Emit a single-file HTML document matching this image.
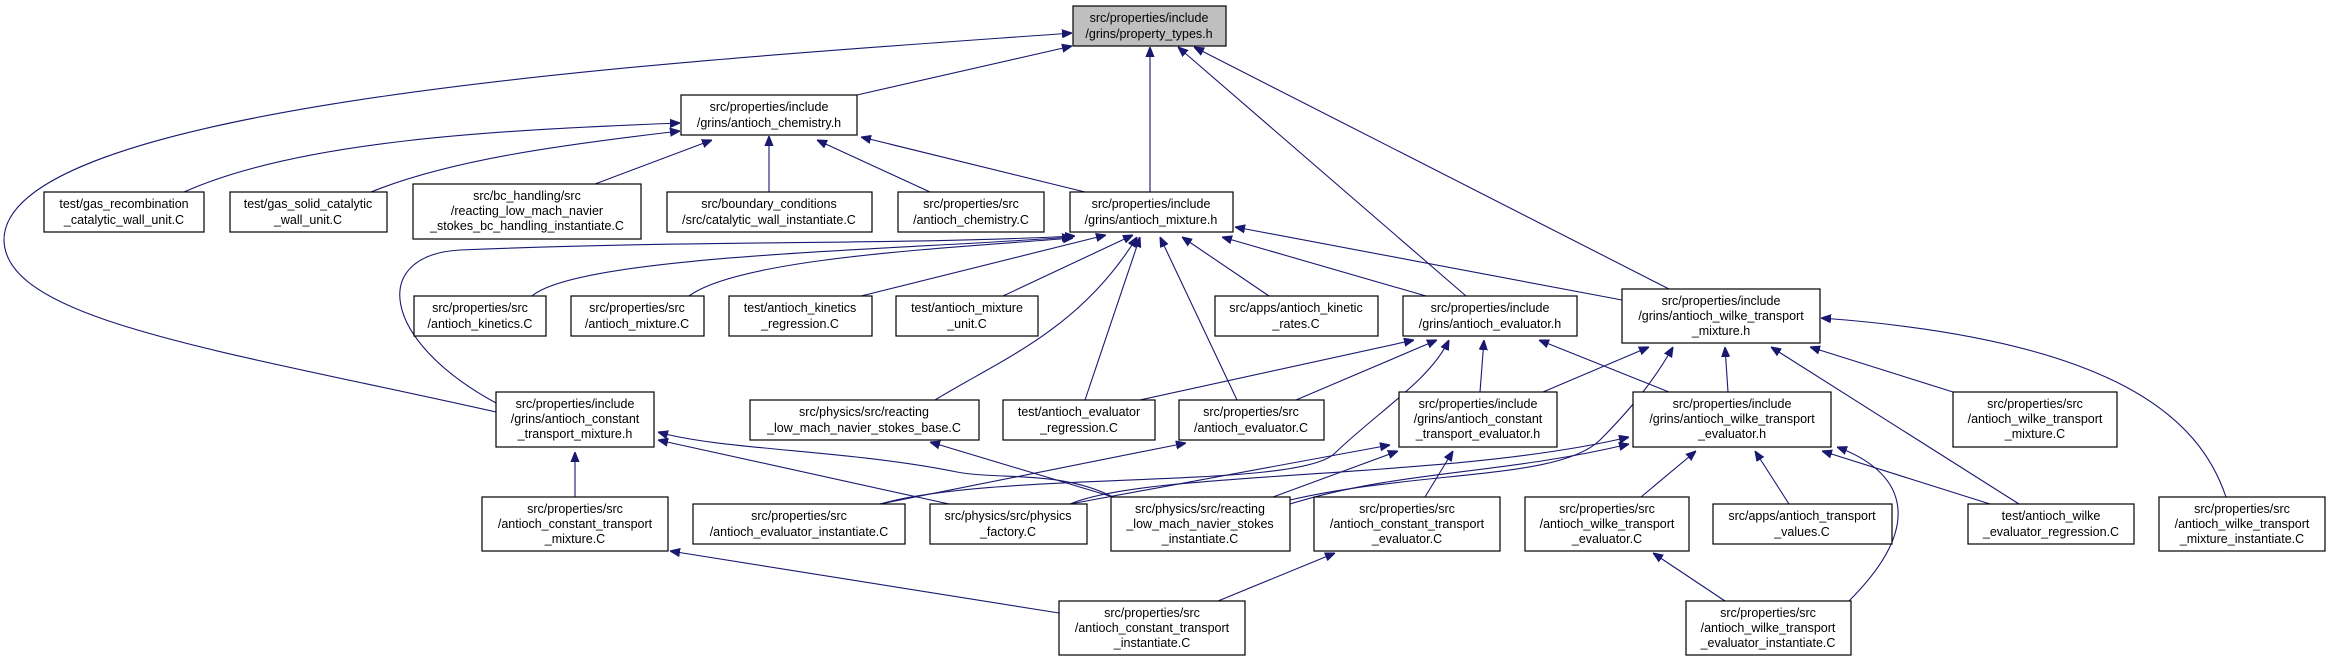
<!DOCTYPE html>
<html><head><meta charset="utf-8"><style>
html,body{margin:0;padding:0;background:#fff;}
svg{display:block;}
text{font-family:"Liberation Sans",sans-serif;font-size:12.5px;fill:#000;text-anchor:middle;}
rect{fill:#fff;stroke:#000;stroke-width:1.2;}
path{fill:none;stroke:#191970;stroke-width:1.1;}
</style></head><body>
<svg width="2330" height="661" viewBox="0 0 2330 661" xmlns="http://www.w3.org/2000/svg">
<defs><marker id="a" viewBox="0 0 10 10" refX="10" refY="5" markerWidth="10" markerHeight="10" markerUnits="userSpaceOnUse" orient="auto"><path d="M0,1 L10,5 L0,9 Z" style="fill:#191970;stroke:#191970"/></marker></defs>
<g marker-end="url(#a)">
<path d="M857,95 L1072,46"/>
<path d="M496,412 C220,350 5,320 4,240 C4,100 700,60 1072,33"/>
<path d="M1150,192 L1150,47"/>
<path d="M1466,296 L1178,47"/>
<path d="M1669,289 L1194,47"/>
<path d="M184,192 C300,140 500,130 680,123"/>
<path d="M371,192 C450,160 560,145 680,131"/>
<path d="M595,184 L712,140"/>
<path d="M769,192 L769,136"/>
<path d="M930,192 L817,140"/>
<path d="M1085,192 L861,137"/>
<path d="M532,296 C580,255 900,250 1072,237"/>
<path d="M689,296 C740,258 950,248 1073,238"/>
<path d="M861,296 L1106,235"/>
<path d="M1003,296 L1133,235"/>
<path d="M496,403 C380,340 370,255 460,250 C700,240 900,245 1075,236"/>
<path d="M935,400 C1000,360 1080,330 1137,237"/>
<path d="M1085,400 L1140,237"/>
<path d="M1237,400 L1160,237"/>
<path d="M1269,296 L1182,237"/>
<path d="M1426,296 L1222,237"/>
<path d="M1622,300 L1235,227"/>
<path d="M1140,400 L1414,340"/>
<path d="M1296,400 L1437,340"/>
<path d="M1480,392 L1484,340"/>
<path d="M1669,392 L1539,340"/>
<path d="M880,504 C1000,470 1300,490 1335,453 C1380,410 1430,380 1449,340"/>
<path d="M1543,392 L1649,347"/>
<path d="M1728,392 L1725,347"/>
<path d="M2019,504 L1771,347"/>
<path d="M1953,392 L1810,347"/>
<path d="M2226,497 C2200,420 2120,340 1821,318"/>
<path d="M1290,500 C1420,470 1560,480 1600,440 C1640,400 1660,370 1673,347"/>
<path d="M1641,497 L1696,451"/>
<path d="M1789,504 L1755,451"/>
<path d="M1990,504 L1822,451"/>
<path d="M1849,601 C1930,520 1900,470 1837,447"/>
<path d="M1070,504 C1150,470 1450,480 1629,437"/>
<path d="M1290,504 C1400,470 1500,475 1629,444"/>
<path d="M1425,497 L1453,451"/>
<path d="M1273,497 L1398,451"/>
<path d="M1070,504 C1150,490 1250,470 1390,445"/>
<path d="M575,497 L575,452"/>
<path d="M949,504 L658,440"/>
<path d="M1113,497 C1060,470 1000,480 957,472 C850,450 720,450 658,432"/>
<path d="M1113,497 L930,442"/>
<path d="M880,504 L1186,443"/>
<path d="M1059,613 L670,551"/>
<path d="M1218,601 L1335,553"/>
<path d="M1725,601 L1653,553"/>
</g>
<rect x="1073" y="6" width="153" height="40" style="fill:#bfbfbf"/>
<text x="1149" y="22">src/properties/include</text><text x="1149" y="38">/grins/property_types.h</text>
<rect x="681" y="95" width="176" height="40"/>
<text x="769" y="111">src/properties/include</text><text x="769" y="127">/grins/antioch_chemistry.h</text>
<rect x="44" y="192" width="160" height="40"/>
<text x="124" y="208">test/gas_recombination</text><text x="124" y="224">_catalytic_wall_unit.C</text>
<rect x="230" y="192" width="157" height="40"/>
<text x="308" y="208">test/gas_solid_catalytic</text><text x="308" y="224">_wall_unit.C</text>
<rect x="413" y="184" width="228" height="55"/>
<text x="527" y="200">src/bc_handling/src</text><text x="527" y="215">/reacting_low_mach_navier</text><text x="527" y="230">_stokes_bc_handling_instantiate.C</text>
<rect x="667" y="192" width="205" height="40"/>
<text x="769" y="208">src/boundary_conditions</text><text x="769" y="224">/src/catalytic_wall_instantiate.C</text>
<rect x="898" y="192" width="146" height="40"/>
<text x="971" y="208">src/properties/src</text><text x="971" y="224">/antioch_chemistry.C</text>
<rect x="1070" y="192" width="163" height="40"/>
<text x="1151" y="208">src/properties/include</text><text x="1151" y="224">/grins/antioch_mixture.h</text>
<rect x="414" y="296" width="132" height="40"/>
<text x="480" y="312">src/properties/src</text><text x="480" y="328">/antioch_kinetics.C</text>
<rect x="571" y="296" width="133" height="40"/>
<text x="637" y="312">src/properties/src</text><text x="637" y="328">/antioch_mixture.C</text>
<rect x="729" y="296" width="143" height="40"/>
<text x="800" y="312">test/antioch_kinetics</text><text x="800" y="328">_regression.C</text>
<rect x="896" y="296" width="142" height="40"/>
<text x="967" y="312">test/antioch_mixture</text><text x="967" y="328">_unit.C</text>
<rect x="1215" y="296" width="163" height="40"/>
<text x="1296" y="312">src/apps/antioch_kinetic</text><text x="1296" y="328">_rates.C</text>
<rect x="1403" y="296" width="174" height="40"/>
<text x="1490" y="312">src/properties/include</text><text x="1490" y="328">/grins/antioch_evaluator.h</text>
<rect x="1622" y="289" width="198" height="54"/>
<text x="1721" y="305">src/properties/include</text><text x="1721" y="320">/grins/antioch_wilke_transport</text><text x="1721" y="335">_mixture.h</text>
<rect x="496" y="392" width="158" height="55"/>
<text x="575" y="408">src/properties/include</text><text x="575" y="423">/grins/antioch_constant</text><text x="575" y="438">_transport_mixture.h</text>
<rect x="750" y="400" width="229" height="40"/>
<text x="864" y="416">src/physics/src/reacting</text><text x="864" y="432">_low_mach_navier_stokes_base.C</text>
<rect x="1003" y="400" width="152" height="40"/>
<text x="1079" y="416">test/antioch_evaluator</text><text x="1079" y="432">_regression.C</text>
<rect x="1179" y="400" width="145" height="40"/>
<text x="1251" y="416">src/properties/src</text><text x="1251" y="432">/antioch_evaluator.C</text>
<rect x="1399" y="392" width="158" height="55"/>
<text x="1478" y="408">src/properties/include</text><text x="1478" y="423">/grins/antioch_constant</text><text x="1478" y="438">_transport_evaluator.h</text>
<rect x="1633" y="392" width="198" height="55"/>
<text x="1732" y="408">src/properties/include</text><text x="1732" y="423">/grins/antioch_wilke_transport</text><text x="1732" y="438">_evaluator.h</text>
<rect x="1953" y="392" width="164" height="55"/>
<text x="2035" y="408">src/properties/src</text><text x="2035" y="423">/antioch_wilke_transport</text><text x="2035" y="438">_mixture.C</text>
<rect x="482" y="497" width="186" height="54"/>
<text x="575" y="513">src/properties/src</text><text x="575" y="528">/antioch_constant_transport</text><text x="575" y="543">_mixture.C</text>
<rect x="693" y="504" width="212" height="40"/>
<text x="799" y="520">src/properties/src</text><text x="799" y="536">/antioch_evaluator_instantiate.C</text>
<rect x="930" y="504" width="157" height="40"/>
<text x="1008" y="520">src/physics/src/physics</text><text x="1008" y="536">_factory.C</text>
<rect x="1111" y="497" width="179" height="54"/>
<text x="1200" y="513">src/physics/src/reacting</text><text x="1200" y="528">_low_mach_navier_stokes</text><text x="1200" y="543">_instantiate.C</text>
<rect x="1314" y="497" width="186" height="54"/>
<text x="1407" y="513">src/properties/src</text><text x="1407" y="528">/antioch_constant_transport</text><text x="1407" y="543">_evaluator.C</text>
<rect x="1525" y="497" width="164" height="54"/>
<text x="1607" y="513">src/properties/src</text><text x="1607" y="528">/antioch_wilke_transport</text><text x="1607" y="543">_evaluator.C</text>
<rect x="1713" y="504" width="179" height="40"/>
<text x="1802" y="520">src/apps/antioch_transport</text><text x="1802" y="536">_values.C</text>
<rect x="1968" y="504" width="166" height="40"/>
<text x="2051" y="520">test/antioch_wilke</text><text x="2051" y="536">_evaluator_regression.C</text>
<rect x="2159" y="497" width="166" height="54"/>
<text x="2242" y="513">src/properties/src</text><text x="2242" y="528">/antioch_wilke_transport</text><text x="2242" y="543">_mixture_instantiate.C</text>
<rect x="1059" y="601" width="186" height="54"/>
<text x="1152" y="617">src/properties/src</text><text x="1152" y="632">/antioch_constant_transport</text><text x="1152" y="647">_instantiate.C</text>
<rect x="1686" y="601" width="165" height="54"/>
<text x="1768" y="617">src/properties/src</text><text x="1768" y="632">/antioch_wilke_transport</text><text x="1768" y="647">_evaluator_instantiate.C</text>
</svg>
</body></html>
